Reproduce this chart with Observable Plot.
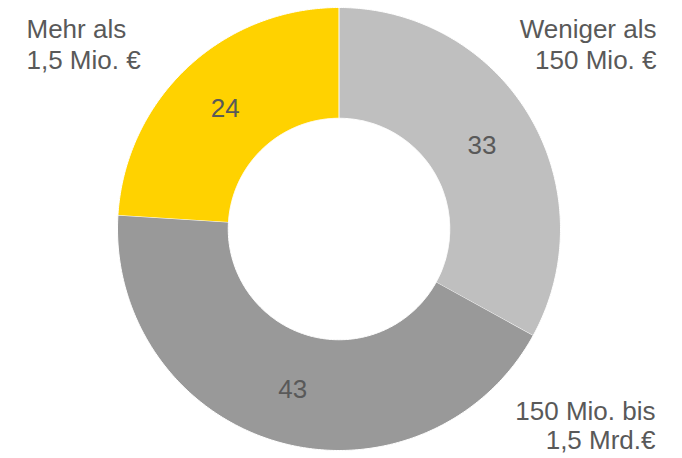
<!DOCTYPE html>
<html>
<head>
<meta charset="utf-8">
<script src="https://cdn.jsdelivr.net/npm/d3@7"></script>
<script src="https://cdn.jsdelivr.net/npm/@observablehq/plot@0.6"></script>
<style>
  html, body { margin: 0; padding: 0; background: #fff; }
</style>
</head>
<body>
<div id="chart"></div>
<script>
// Data (clockwise from 12 o'clock)
const categories = ["Weniger als\n150 Mio. €", "150 Mio. bis\n1,5 Mrd.€", "Mehr als\n1,5 Mio. €"];
const values = [33, 43, 24];
const colors = ["#BFBFBF", "#999999", "#FFD200"];

const innerRatio = 0.5;
const total = d3.sum(values);

// Build slices from the values
let cum = 0;
const slices = values.map((v, i) => {
  const a0 = cum / total * 2 * Math.PI;
  cum += v;
  const a1 = cum / total * 2 * Math.PI;
  return {cat: categories[i], value: v, a0, a1, mid: (a0 + a1) / 2};
});

// Polygon outline of each ring segment, in unit coordinates
const outline = [];
for (const s of slices) {
  const n = 200;
  for (let k = 0; k <= n; k++) {
    const a = s.a0 + (s.a1 - s.a0) * k / n;
    outline.push({cat: s.cat, x: Math.sin(a), y: Math.cos(a)});
  }
  for (let k = n; k >= 0; k--) {
    const a = s.a0 + (s.a1 - s.a0) * k / n;
    outline.push({cat: s.cat, x: innerRatio * Math.sin(a), y: innerRatio * Math.cos(a)});
  }
}
const rLabel = (1 + innerRatio) / 2;

const font = "'Liberation Sans', Arial, sans-serif";
const textColor = "#595959";

const chart = Plot.plot({
  width: 682,
  height: 458,
  margin: 0,
  style: {fontFamily: font, background: "#fff", overflow: "visible"},
  x: {domain: [-1, 1], range: [117, 560], axis: null},
  y: {domain: [-1, 1], range: [450, 7], axis: null},
  color: {domain: categories, range: colors, legend: false},
  marks: [
    Plot.line(outline, {x: "x", y: "y", z: "cat", fill: "cat", stroke: "#fff", strokeWidth: 1, curve: "linear"}),
    Plot.text(slices, {
      x: d => rLabel * Math.sin(d.mid),
      y: d => rLabel * Math.cos(d.mid),
      text: d => String(d.value),
      fill: textColor, fontSize: 26, dy: 1
    }),
    Plot.text([categories[0]], {text: d => d, frameAnchor: "top-right", textAnchor: "end", lineAnchor: "top",
      dx: -26, dy: 15, lineHeight: 1.2, fontSize: 26, fill: textColor}),
    Plot.text([categories[1]], {text: d => d, frameAnchor: "top-right", textAnchor: "end", lineAnchor: "top",
      dx: -27, dy: 399, lineHeight: 1.12, fontSize: 26, fill: textColor}),
    Plot.text([categories[2]], {text: d => d, frameAnchor: "top-left", textAnchor: "start", lineAnchor: "top",
      dx: 26, dy: 15, lineHeight: 1.2, fontSize: 26, fill: textColor})
  ]
});
document.getElementById("chart").appendChild(chart);
</script>
</body>
</html>
